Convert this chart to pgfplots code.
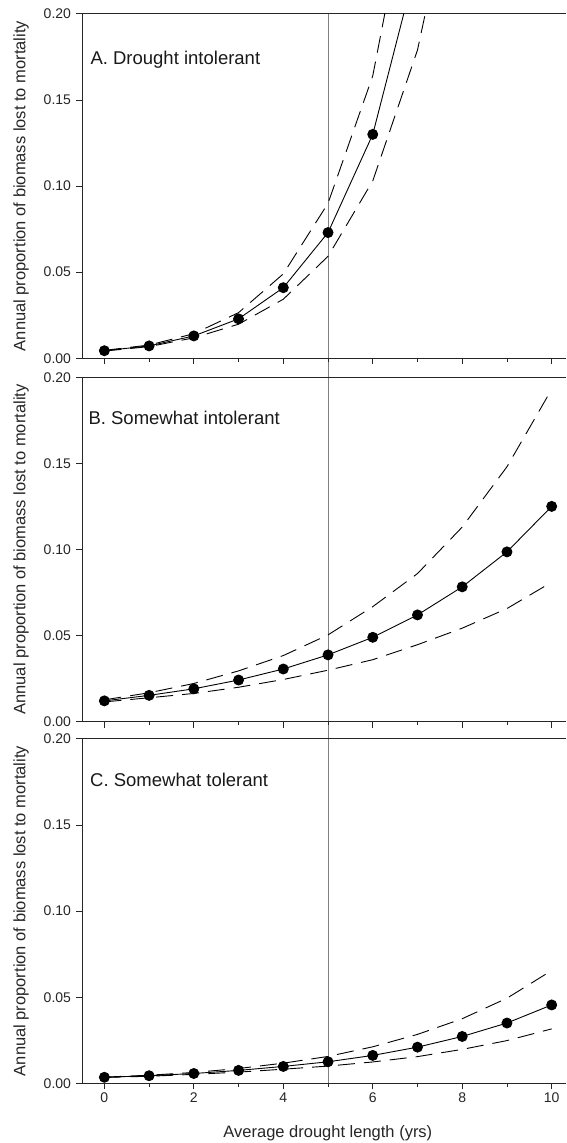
\documentclass[border=0pt]{standalone}
\usepackage{pgfplots}
\pgfplotsset{compat=1.18}
\usepackage{fontspec}
\setmainfont{Liberation Sans}
\pgfdeclarelayer{background}
\pgfsetlayers{background,main}

\pgfplotsset{
  panel/.style={
    scale only axis, width=484pt, height=344.5pt,
    xmin=-0.5, xmax=10.32, ymin=0, ymax=0.2,
    axis x line*=box, axis y line*=left,
    xtick={0,2,4,6,8,10}, minor xtick={1,3,5,7,9},
    ytick={0,0.05,0.1,0.15,0.2},
    tick align=outside, xtick pos=left, ytick pos=left,
    major tick length=6pt, minor tick length=3.5pt,
    yticklabel style={/pgf/number format/fixed, /pgf/number format/fixed zerofill, /pgf/number format/precision=2, xshift=-1.5pt},
    /pgf/number format/assume math mode=true,
    ticklabel style={font=\fontsize{14}{16}\selectfont, text=black!85},
    axis line style={black!85, line width=0.8pt, -},
    tick style={black!85, line width=0.8pt},
    ylabel={Annual proportion of biomass lost to mortality},
    ylabel style={font=\fontsize{16.5}{19}\selectfont, at={(axis description cs:-0.126,0.5)}, anchor=center, text=black!85},
    clip=true,
  },
  meanline/.style={black, line width=0.9pt, mark=*, mark size=5pt, mark options={solid, fill=black}},
  ciline/.style={black, line width=0.9pt, dash pattern=on 17pt off 9pt, no markers},
}
\tikzset{plabel/.style={font=\fontsize{18.5}{21}\selectfont, anchor=base west, text=black!90}}

\begin{document}
\begin{tikzpicture}
\path[use as bounding box] (0,0) rectangle (566pt,-1143pt);

% Panel A
\begin{axis}[panel, at={(82pt,-358.3pt)}, anchor=south west, xticklabels={}]
\addplot[ciline] coordinates {(0,0.0046) (1,0.0077) (2,0.0143) (3,0.0265) (4,0.0490) (5,0.0900) (6,0.1640) (7,0.2980) (8,0.5300)};
\addplot[ciline] coordinates {(0,0.0042) (1,0.0068) (2,0.0119) (3,0.0198) (4,0.0343) (5,0.0592) (6,0.1030) (7,0.1790) (8,0.3000)};
\addplot[meanline] coordinates {(0,0.0044) (1,0.0072) (2,0.0130) (3,0.0229) (4,0.0410) (5,0.0730) (6,0.1300) (7,0.2310)};
\node[plabel] at (rel axis cs:0.0103,0.852) {A. Drought intolerant};
\coordinate (vtop) at (axis cs:5,0.2);
\end{axis}

% Panel B
\begin{axis}[panel, at={(82pt,-721.7pt)}, anchor=south west, xticklabels={}]
\addplot[ciline] coordinates {(0,0.0127) (1,0.0168) (2,0.0222) (3,0.0295) (4,0.0384) (5,0.0504) (6,0.0668) (7,0.0860) (8,0.1130) (9,0.1480) (10,0.1930)};
\addplot[ciline] coordinates {(0,0.0115) (1,0.0139) (2,0.0164) (3,0.0200) (4,0.0245) (5,0.0299) (6,0.0360) (7,0.0447) (8,0.0543) (9,0.0657) (10,0.0810)};
\addplot[meanline] coordinates {(0,0.0121) (1,0.0153) (2,0.0191) (3,0.0242) (4,0.0306) (5,0.0388) (6,0.0490) (7,0.0620) (8,0.0783) (9,0.0986) (10,0.1250)};
\node[plabel] at (rel axis cs:0.0062,0.863) {B. Somewhat intolerant};
\end{axis}

% Panel C
\begin{axis}[panel, at={(82pt,-1083.3pt)}, anchor=south west,
  xlabel={Average drought length (yrs)},
  xlabel style={font=\fontsize{16.5}{19}\selectfont, at={(axis description cs:0.508,-0.1445)}, anchor=center, text=black!85}]
\addplot[ciline] coordinates {(0,0.0036) (1,0.0047) (2,0.0063) (3,0.0086) (4,0.0117) (5,0.0156) (6,0.0212) (7,0.0284) (8,0.0375) (9,0.0494) (10,0.0655)};
\addplot[ciline] coordinates {(0,0.0034) (1,0.0041) (2,0.0052) (3,0.0065) (4,0.0082) (5,0.0100) (6,0.0124) (7,0.0155) (8,0.0197) (9,0.0248) (10,0.0316)};
\addplot[meanline] coordinates {(0,0.0035) (1,0.0044) (2,0.0057) (3,0.0075) (4,0.0098) (5,0.0125) (6,0.0162) (7,0.0210) (8,0.0272) (9,0.0350) (10,0.0455)};
\node[plabel] at (rel axis cs:0.0097,0.862) {C. Somewhat tolerant};
\coordinate (vbot) at (axis cs:5,0);
\end{axis}

\begin{pgfonlayer}{background}
\draw[gray, line width=0.7pt] (vtop) -- (vbot);
\end{pgfonlayer}
\end{tikzpicture}
\end{document}
